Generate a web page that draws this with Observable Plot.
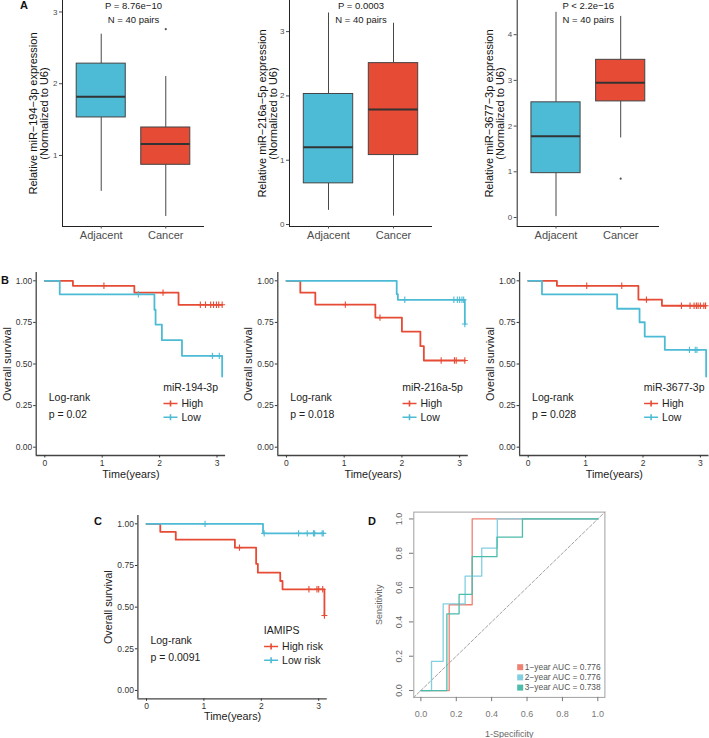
<!DOCTYPE html>
<html><head><meta charset="utf-8">
<script src="https://cdn.jsdelivr.net/npm/d3@7"></script>
<script src="https://cdn.jsdelivr.net/npm/@observablehq/plot@0.6"></script>
<style>
html,body{margin:0;padding:0;background:#fff;}
#fig{position:relative;width:709px;height:738px;overflow:hidden;background:#fff;font-family:"Liberation Sans",Arial,Helvetica,sans-serif;}
.panel{position:absolute;}
</style></head><body><div id="fig"></div>
<script>
// ---------------- DATA ----------------
// Panel A: box-plot summaries (lower whisker, Q1, median, Q3, upper whisker)
const groups = ["Adjacent", "Cancer"];
const mir194Lower = [0.50, 0.15];
const mir194Q1 = [1.53, 0.87];
const mir194Median = [1.82, 1.16];
const mir194Q3 = [2.28, 1.39];
const mir194Upper = [2.69, 2.10];
const mir194OutGroup = ["Cancer"];
const mir194OutValue = [2.76];

const mir216Lower = [0.22, 0.13];
const mir216Q1 = [0.64, 1.08];
const mir216Median = [1.20, 1.79];
const mir216Q3 = [2.03, 2.51];
const mir216Upper = [3.29, 3.13];
const mir216OutGroup = [];
const mir216OutValue = [];

const mir3677Lower = [0.02, 1.74];
const mir3677Q1 = [0.97, 2.54];
const mir3677Median = [1.78, 2.95];
const mir3677Q3 = [2.52, 3.45];
const mir3677Upper = [4.49, 4.40];
const mir3677OutGroup = ["Cancer"];
const mir3677OutValue = [0.85];

// Panel B/C: Kaplan-Meier event times, survival after event, censor times
const km194HighTime = [0.49, 1.56, 2.33];
const km194HighSurv = [0.970, 0.929, 0.856];
const km194HighCens = [1.03, 2.06, 2.71, 2.80, 2.89, 2.94, 2.99, 3.03, 3.09];
const km194LowTime = [0.26, 1.91, 1.93, 2.04, 2.39, 3.09];
const km194LowSurv = [0.919, 0.826, 0.737, 0.643, 0.549, 0.425];
const km194LowCens = [1.63, 2.92, 3.04];

const km216HighTime = [0.24, 0.50, 1.54, 2.00, 2.32, 2.38];
const km216HighSurv = [0.929, 0.857, 0.779, 0.695, 0.607, 0.521];
const km216HighCens = [1.02, 1.62, 2.68, 2.91, 2.94, 3.09];
const km216LowTime = [1.91, 1.93, 3.09];
const km216LowSurv = [0.920, 0.886, 0.740];
const km216LowCens = [2.05, 2.90, 2.96, 3.00, 3.04, 3.07, 3.09];

const km3677HighTime = [0.50, 1.92, 2.33];
const km3677HighSurv = [0.970, 0.887, 0.850];
const km3677HighCens = [1.02, 1.63, 2.06, 2.67, 2.82, 2.89, 2.93, 2.96, 3.00, 3.06, 3.09];
const km3677LowTime = [0.24, 1.55, 1.94, 2.03, 2.38, 3.10];
const km3677LowSurv = [0.919, 0.832, 0.751, 0.665, 0.585, 0.425];
const km3677LowCens = [2.81, 2.91, 2.94];

const kmRiskHighTime = [0.24, 0.51, 1.54, 1.91, 1.94, 2.33, 2.37, 3.10];
const kmRiskHighSurv = [0.952, 0.905, 0.857, 0.760, 0.707, 0.657, 0.607, 0.450];
const kmRiskHighCens = [1.62, 2.83, 2.97, 3.00, 3.07, 3.10];
const kmRiskLowTime = [2.03];
const kmRiskLowSurv = [0.943];
const kmRiskLowCens = [1.02, 2.05, 2.65, 2.80, 2.91, 2.93, 3.06, 3.08];

const kmXTicks = [0, 1, 2, 3];
const kmYTicks = [0, 0.25, 0.5, 0.75, 1];

// Panel D: ROC vertices (false-positive rate, sensitivity)
const rocNames = ["1−year", "2−year", "3−year"];
const rocAuc = ["0.776", "0.776", "0.738"];
const roc1Fpr = [0, 0.16, 0.29, 1.0];
const roc1Tpr = [0, 0.50, 1.0, 1.0];
const roc2Fpr = [0, 0.06, 0.126, 0.25, 0.344, 0.432, 1.0];
const roc2Tpr = [0, 0.17, 0.505, 0.667, 0.83, 1.0, 1.0];
const roc3Fpr = [0, 0.147, 0.216, 0.29, 0.43, 0.574, 1.0];
const roc3Tpr = [0, 0.447, 0.56, 0.78, 0.894, 1.0, 1.0];
const rocTicks = [0, 0.2, 0.4, 0.6, 0.8, 1.0];

// ---------------- STYLE / LAYOUT ----------------
const FONT = '"Liberation Sans", Arial, Helvetica, sans-serif';
const BLUE = "#4DBBD5", RED = "#E64B35";
const ROC_COLORS = ["#EE8172", "#82CFE2", "#4CBCAB"];
const fig = document.getElementById("fig");

function place(svgBox, frame, opts, color) {
  const [sx, sy, sw, sh] = svgBox;
  const [fl, ft, fr, fb] = frame;
  const plot = Plot.plot({
    width: sw, height: sh,
    marginLeft: fl - sx, marginRight: sx + sw - fr,
    marginTop: ft - sy, marginBottom: sy + sh - fb,
    style: {fontFamily: FONT, fontSize: "9px", background: "transparent", overflow: "visible", color: color || "#222"},
    ...opts
  });
  const div = document.createElement("div");
  div.className = "panel";
  div.style.left = sx + "px";
  div.style.top = sy + "px";
  div.appendChild(plot);
  fig.appendChild(div);
}

// free-standing annotation text, always centred on its anchor line
function label(text, o) {
  return Plot.text([text], {textAnchor: "middle", lineAnchor: "middle", ...o});
}

// ---------------- PANEL A ----------------
function boxPanel(c) {
  const rows = groups.map((g, i) => ({group: g, pos: i + 1, lower: c.lower[i], q1: c.q1[i], median: c.median[i], q3: c.q3[i], upper: c.upper[i]}));
  const outs = c.outGroup.map((g, i) => ({pos: groups.indexOf(g) + 1, value: c.outValue[i]}));
  const hw = 0.38;
  const xDomain = [0.4, 2.6];
  place(c.svgBox, c.frame, {
    x: {domain: xDomain},
    y: {domain: c.yDomain},
    color: {domain: groups, range: [BLUE, RED]},
    marks: [
      Plot.ruleX(rows, {x: "pos", y1: "lower", y2: "q1", stroke: "#333", strokeWidth: 0.9}),
      Plot.ruleX(rows, {x: "pos", y1: "q3", y2: "upper", stroke: "#333", strokeWidth: 0.9}),
      Plot.rectY(rows, {x1: d => d.pos - hw, x2: d => d.pos + hw, y1: "q1", y2: "q3", fill: "group", stroke: "#444", strokeWidth: 1}),
      Plot.ruleY(rows, {x1: d => d.pos - hw, x2: d => d.pos + hw, y: "median", stroke: "#333", strokeWidth: 2}),
      Plot.dot(outs, {x: "pos", y: "value", r: 1.1, fill: "#555", stroke: null}),
      Plot.ruleX([xDomain[0]], {stroke: "#222", strokeWidth: 1}),
      Plot.ruleY([c.yDomain[0]], {stroke: "#222", strokeWidth: 1}),
      Plot.axisY({ticks: c.yTicks, tickFormat: d => String(d), tickSize: 3, tickPadding: 2, fontSize: 8, color: "#4d4d4d", label: null}),
      Plot.axisX({ticks: [1, 2], tickFormat: i => groups[i - 1], tickSize: 2.5, tickPadding: 2, fontSize: 11, color: "#4d4d4d", label: null}),
      label(c.yTitle, {frameAnchor: "left", rotate: -90, dx: c.titleDx, fontSize: 11, lineHeight: 1, fill: "#111"}),
      label(c.pText, {frameAnchor: "top", dy: 5.5, fontSize: 9.5, fill: "#1a1a1a"}),
      label("N = 40 pairs", {frameAnchor: "top", dy: 19, fontSize: 9.5, fill: "#1a1a1a"})
    ]
  });
}

boxPanel({svgBox: [0, 0, 235, 250], frame: [62, 0, 204, 226], yDomain: [0.01, 3.16], yTicks: [1, 2, 3],
  lower: mir194Lower, q1: mir194Q1, median: mir194Median, q3: mir194Q3, upper: mir194Upper,
  outGroup: mir194OutGroup, outValue: mir194OutValue, titleDx: -23.2,
  yTitle: "Relative miR−194−3p expression\n(Normalized to U6)", pText: "P = 8.76e−10"});
boxPanel({svgBox: [235, 0, 235, 250], frame: [289, 0, 432, 226], yDomain: [-0.031, 3.484], yTicks: [0, 1, 2, 3],
  lower: mir216Lower, q1: mir216Q1, median: mir216Median, q3: mir216Q3, upper: mir216Upper,
  outGroup: mir216OutGroup, outValue: mir216OutValue, titleDx: -21.5,
  yTitle: "Relative miR−216a−5p expression\n(Normalized to U6)", pText: "P = 0.0003"});
boxPanel({svgBox: [470, 0, 239, 250], frame: [516.7, 0, 659, 226], yDomain: [-0.197, 4.748], yTicks: [0, 1, 2, 3, 4],
  lower: mir3677Lower, q1: mir3677Q1, median: mir3677Median, q3: mir3677Q3, upper: mir3677Upper,
  outGroup: mir3677OutGroup, outValue: mir3677OutValue, titleDx: -22.5,
  yTitle: "Relative miR−3677−3p expression\n(Normalized to U6)", pText: "P < 2.2e−16"});

// ---------------- PANELS B & C ----------------
const censorSym = {draw(ctx) { ctx.moveTo(-3, 0); ctx.lineTo(3, 0); ctx.moveTo(0, -3.2); ctx.lineTo(0, 3.2); }};
const legendSym = {draw(ctx) { ctx.moveTo(-7, 0); ctx.lineTo(7, 0); ctx.moveTo(0, -3); ctx.lineTo(0, 3); }};

function survAt(T, S, t) {
  let s = 1;
  T.forEach((ti, i) => { if (ti <= t) s = S[i]; });
  return s;
}

function kmPanel(c) {
  const steps = [], cens = [];
  c.names.forEach((name, k) => {
    const T = c.times[k], S = c.survs[k], C = c.cens[k];
    const end = Math.max(...T, ...C);
    steps.push({group: name, t: 0, s: 1});
    T.forEach((t, i) => steps.push({group: name, t, s: S[i]}));
    steps.push({group: name, t: end, s: S.length ? S[S.length - 1] : 1});
    C.forEach(t => cens.push({group: name, t, s: survAt(T, S, t)}));
  });
  const xDomain = [-0.15, 3.15], yDomain = [-0.05, 1.05];
  const L = c.legendDx;
  const txt = (t, dx, dy) => label(t, {frameAnchor: "top-left", dx, dy, textAnchor: "start", fontSize: 10.5, fill: "#222"});
  place(c.svgBox, c.frame, {
    x: {domain: xDomain},
    y: {domain: yDomain},
    color: {domain: c.names, range: [RED, BLUE]},
    marks: [
      Plot.ruleX([xDomain[0]], {stroke: "#444", strokeWidth: 1.3}),
      Plot.ruleY([yDomain[0]], {stroke: "#444", strokeWidth: 1.3}),
      Plot.axisY({ticks: kmYTicks, tickFormat: ".2f", tickSize: 2.5, tickPadding: 1.5, fontSize: 8.5, color: "#333", label: null}),
      Plot.axisX({ticks: kmXTicks, tickFormat: d => String(d), tickSize: 2.5, tickPadding: 1.7, fontSize: 8.5, color: "#333", label: null}),
      Plot.line(steps, {x: "t", y: "s", z: "group", stroke: "group", curve: "step-after", strokeWidth: 1.8}),
      Plot.dot(cens, {x: "t", y: "s", stroke: "group", symbol: censorSym, fill: "none", strokeWidth: 1.1}),
      label("Overall survival", {frameAnchor: "left", rotate: -90, dx: -29, fontSize: 10.8, fill: "#222"}),
      label("Time(years)", {frameAnchor: "bottom", dy: c.timeDy, fontSize: 10.8, fill: "#222"}),
      txt("Log-rank", 12.5, 125),
      txt(c.pText, 12.5, 142),
      txt(c.legendTitle, L, 114.7),
      Plot.dot([c.names[0]], {frameAnchor: "top-left", dx: L + 7.3, dy: 131, symbol: legendSym, fill: "none", stroke: RED, strokeWidth: 1.6}),
      Plot.dot([c.names[1]], {frameAnchor: "top-left", dx: L + 7.3, dy: 144.7, symbol: legendSym, fill: "none", stroke: BLUE, strokeWidth: 1.6}),
      txt(c.names[0], L + 18.3, 131),
      txt(c.names[1], L + 18.3, 144.7)
    ]
  });
}

kmPanel({svgBox: [0, 262, 235, 226], frame: [35.7, 272, 225.1, 455], names: ["High", "Low"],
  times: [km194HighTime, km194LowTime], survs: [km194HighSurv, km194LowSurv], cens: [km194HighCens, km194LowCens],
  pText: "p = 0.02", legendTitle: "miR-194-3p", legendDx: 127, timeDy: 19});
kmPanel({svgBox: [235, 262, 235, 226], frame: [277.3, 272, 467.8, 455], names: ["High", "Low"],
  times: [km216HighTime, km216LowTime], survs: [km216HighSurv, km216LowSurv], cens: [km216HighCens, km216LowCens],
  pText: "p = 0.018", legendTitle: "miR-216a-5p", legendDx: 124.4, timeDy: 19});
kmPanel({svgBox: [470, 262, 239, 226], frame: [519.1, 272, 708.5, 455], names: ["High", "Low"],
  times: [km3677HighTime, km3677LowTime], survs: [km3677HighSurv, km3677LowSurv], cens: [km3677HighCens, km3677LowCens],
  pText: "p = 0.028", legendTitle: "miR-3677-3p", legendDx: 124.2, timeDy: 19});
kmPanel({svgBox: [60, 505, 290, 233], frame: [137.4, 515, 326.8, 698.3], names: ["High risk", "Low risk"],
  times: [kmRiskHighTime, kmRiskLowTime], survs: [kmRiskHighSurv, kmRiskLowSurv], cens: [kmRiskHighCens, kmRiskLowCens],
  pText: "p = 0.0091", legendTitle: "IAMIPS", legendDx: 125.9, timeDy: 17.5});

// ---------------- PANEL D ----------------
(function rocPanel() {
  const rocDomain = [-0.04, 1.04];
  const fprs = [roc1Fpr, roc2Fpr, roc3Fpr], tprs = [roc1Tpr, roc2Tpr, roc3Tpr];
  const rows = [];
  rocNames.forEach((n, k) => fprs[k].forEach((f, i) => rows.push({name: n, fpr: f, tpr: tprs[k][i]})));
  const diag = rocDomain.map(v => ({v}));
  const legendMarks = [];
  rocNames.forEach((n, i) => {
    const dy = -30.2 + i * 10.2;
    legendMarks.push(Plot.dot([n], {frameAnchor: "bottom-right", dx: -84.7, dy, symbol: "square", r: 3.39, fill: ROC_COLORS[i], stroke: null}));
    legendMarks.push(label(`${n} AUC = ${rocAuc[i]}`, {frameAnchor: "bottom-right", dx: -80.1, dy, textAnchor: "start", fontSize: 8.4, fill: "#555"}));
  });
  place([360, 500, 349, 238], [413.3, 511.6, 604.4, 696.9], {
    x: {domain: rocDomain},
    y: {domain: rocDomain},
    color: {domain: rocNames, range: ROC_COLORS},
    marks: [
      Plot.line(diag, {x: "v", y: "v", stroke: "#777", strokeWidth: 0.7, strokeDasharray: "3,2"}),
      Plot.line(rows, {x: "fpr", y: "tpr", z: "name", stroke: "name", curve: "step-after", strokeWidth: 1.3}),
      Plot.frame({stroke: "#a0a0a0", strokeWidth: 1}),
      Plot.axisX({ticks: rocTicks, tickFormat: ".1f", tickSize: 4.3, tickPadding: 8.5, fontSize: 9, color: "#777", label: null}),
      Plot.axisY({ticks: rocTicks, tickFormat: () => "", tickSize: 4.3, color: "#777", label: null}),
      Plot.text(rocTicks, {y: d => d, text: d => d3.format(".1f")(d), frameAnchor: "left", rotate: -90, dx: -15, textAnchor: "middle", lineAnchor: "middle", fontSize: 9, fill: "#666"}),
      label("Sensitivity", {frameAnchor: "left", rotate: -90, dx: -35, fontSize: 9, fill: "#666"}),
      label("1-Specificity", {frameAnchor: "bottom", dy: 36.4, fontSize: 9, fill: "#666"}),
      ...legendMarks
    ]
  }, "#666");
})();

// ---------------- PANEL LETTERS ----------------
const ov = d3.select(fig).append("svg")
  .attr("width", 709).attr("height", 738)
  .style("position", "absolute").style("left", "0px").style("top", "0px").style("pointer-events", "none");
[["A", 20, 5], ["B", 1, 280], ["C", 94, 521], ["D", 368, 521]].forEach(([t, x, y]) => {
  ov.append("text").attr("x", x).attr("y", y).attr("dy", "0.36em")
    .attr("font-family", FONT).attr("font-weight", "bold").attr("font-size", 11).attr("fill", "#111").text(t);
});
</script>
</body></html>
